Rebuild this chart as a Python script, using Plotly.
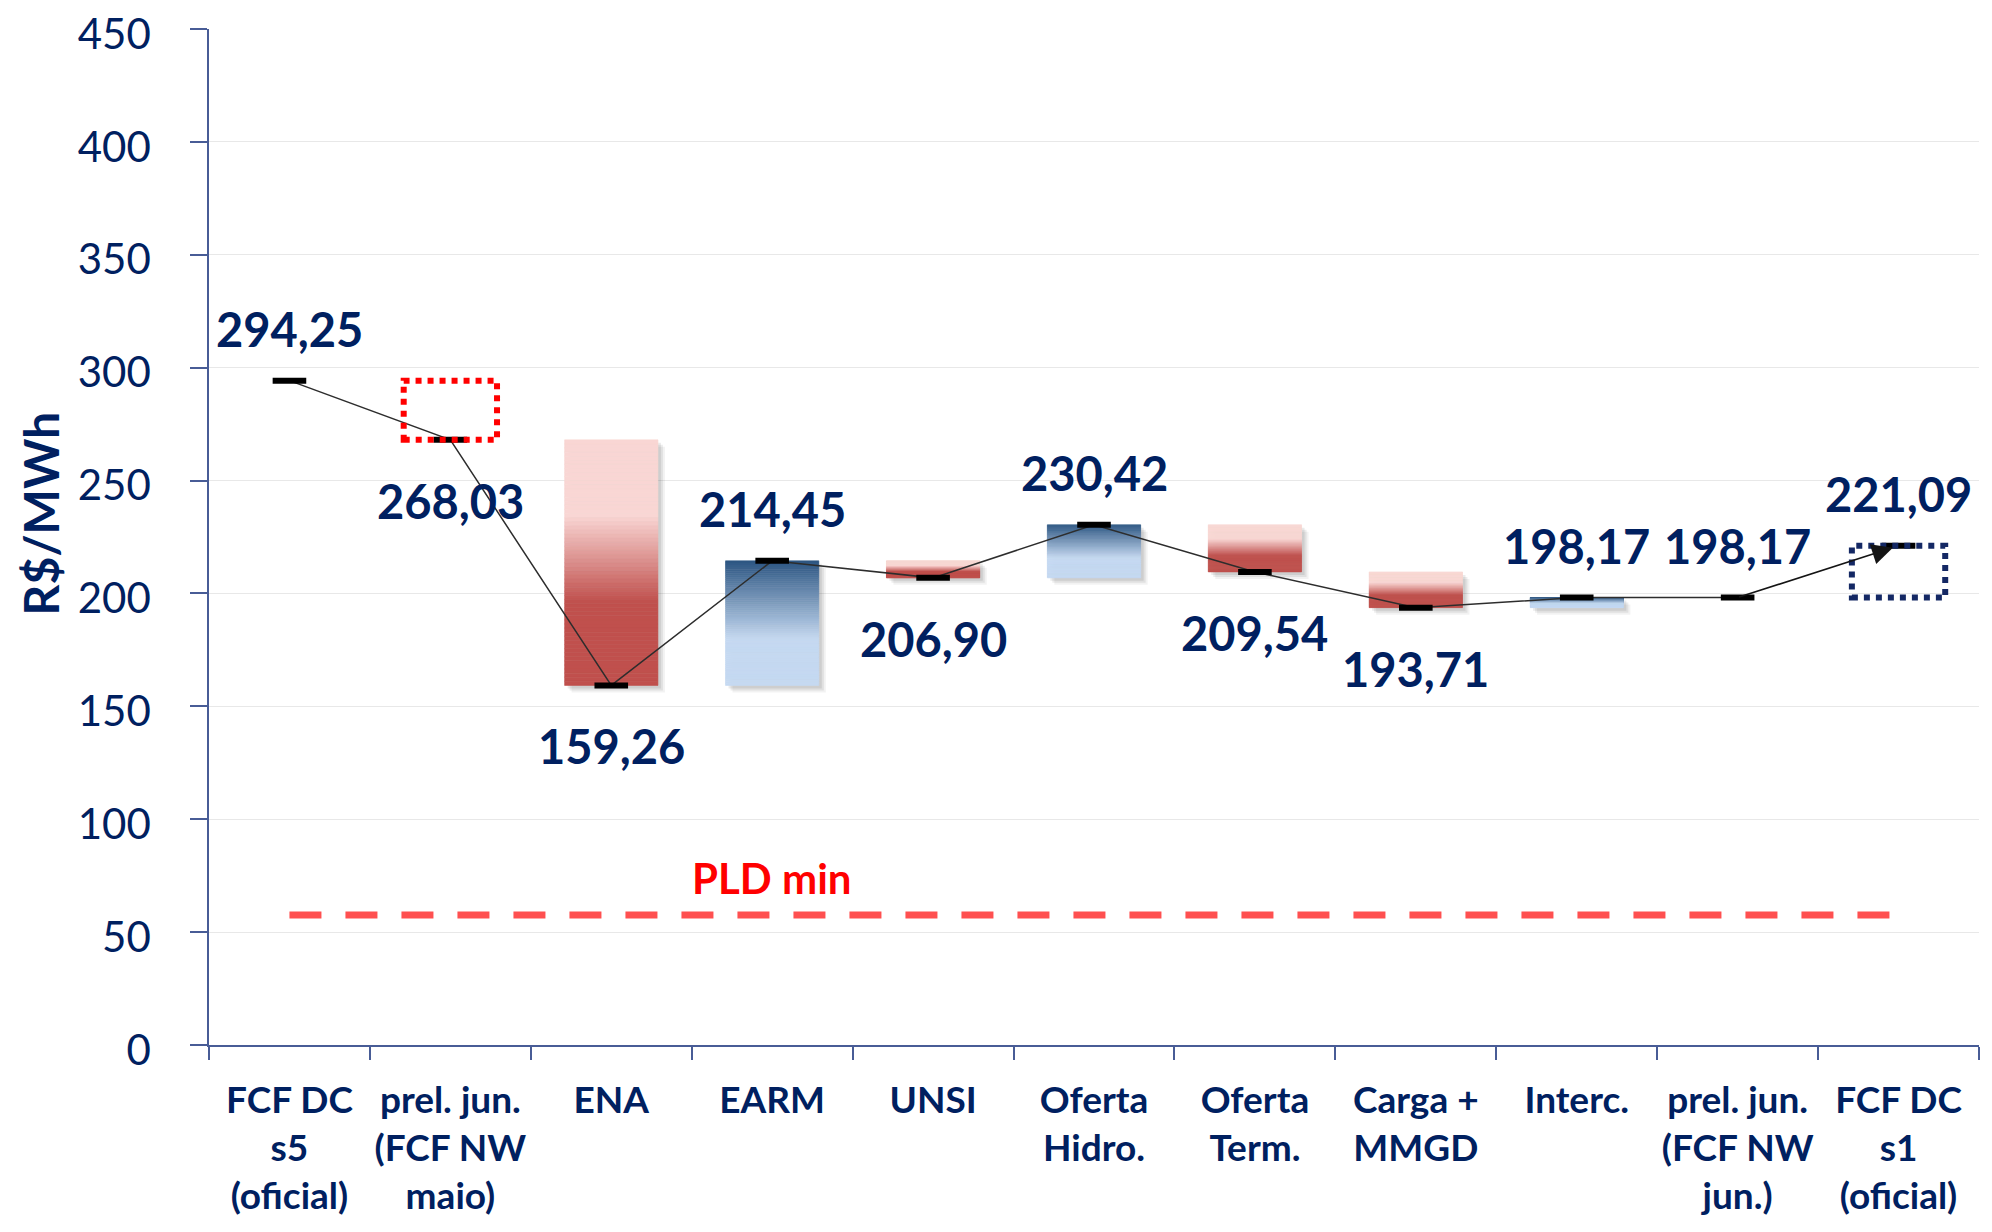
import plotly.graph_objects as go

# ---------------- data ----------------
categories = [
    "FCF DC<br>s5<br>(oficial)",
    "prel. jun.<br>(FCF NW<br>maio)",
    "ENA",
    "EARM",
    "UNSI",
    "Oferta<br>Hidro.",
    "Oferta<br>Term.",
    "Carga +<br>MMGD",
    "Interc.",
    "prel. jun.<br>(FCF NW<br>jun.)",
    "FCF DC<br>s1<br>(oficial)",
]
levels = [294.25, 268.03, 159.26, 214.45, 206.90, 230.42, 209.54, 193.71, 198.17, 198.17, 221.09]
pld_min = 57.6
pld_label = "PLD min"
pld_label_category = "EARM"
pld_label_y = 74
y_tick_values = [0, 50, 100, 150, 200, 250, 300, 350, 400, 450]
y_title = "R$/MWh"

# ---------------- styles ----------------
bar_kind = ["none", "box_red", "grad", "grad", "grad", "grad", "grad", "grad", "grad", "none", "box_navy"]
NAVY = "rgb(0,32,96)"
AXIS = "rgb(72,92,150)"
FONT = "Lato"
BAR_W = 0.58
RED_STOPS = [(0.0, (249, 214, 212)), (0.31, (249, 214, 212)), (0.66, (192, 80, 77)), (1.0, (192, 80, 77))]
BLUE_STOPS = [(0.0, (44, 85, 130)), (0.63, (197, 217, 241)), (1.0, (197, 217, 241))]
N_SLICES = 60
PX_PER_CAT = 161.0
PX_PER_UNIT = 1016.0 / 450.0


def interp(stops, f):
    for (f0, c0), (f1, c1) in zip(stops[:-1], stops[1:]):
        if f0 <= f <= f1:
            t = 0 if f1 == f0 else (f - f0) / (f1 - f0)
            c = [round(a + (b - a) * t) for a, b in zip(c0, c1)]
            return "rgb(%d,%d,%d)" % tuple(c)
    return "rgb(%d,%d,%d)" % stops[-1][1]


def fmt(v):
    return f"{v:.2f}".replace(".", ",")


fig = go.Figure()

# shadows for gradient bars
for dx_px, dy_px, alpha in [(7, 7, 0.05), (5, 5, 0.07), (3, 3, 0.08)]:
    sx, sb, sy = [], [], []
    for i in range(1, len(levels)):
        if bar_kind[i] != "grad":
            continue
        lo, hi = sorted([levels[i - 1], levels[i]])
        sx.append(categories[i])
        sb.append(lo - dy_px / PX_PER_UNIT)
        sy.append(hi - lo)
    fig.add_trace(go.Bar(
        x=sx, y=sy, base=sb, width=BAR_W, offset=-BAR_W / 2 + dx_px / PX_PER_CAT,
        marker=dict(color=f"rgba(0,0,0,{alpha})", line=dict(width=0)),
        hoverinfo="skip", showlegend=False,
    ))

# gradient bars built from slices
gx, gb, gy, gc = [], [], [], []
for i in range(1, len(levels)):
    if bar_kind[i] != "grad":
        continue
    prev, cur = levels[i - 1], levels[i]
    top, bot = max(prev, cur), min(prev, cur)
    stops = BLUE_STOPS if cur > prev else RED_STOPS
    h = (top - bot) / N_SLICES
    for k in range(N_SLICES):
        f = (k + 0.5) / N_SLICES
        gx.append(categories[i])
        gb.append(top - (k + 1) * h)
        gy.append(h)
        gc.append(interp(stops, f))
fig.add_trace(go.Bar(
    x=gx, y=gy, base=gb, width=BAR_W,
    marker=dict(color=gc, line=dict(color=gc, width=0.6)),
    hoverinfo="skip", showlegend=False,
))

# dotted boxes
for i in range(1, len(levels)):
    if bar_kind[i] in ("box_red", "box_navy"):
        col = "rgb(255,0,0)" if bar_kind[i] == "box_red" else "rgb(20,40,100)"
        fig.add_shape(type="rect", xref="x", yref="y",
                      x0=i - BAR_W / 2, x1=i + BAR_W / 2,
                      y0=min(levels[i - 1], levels[i]), y1=max(levels[i - 1], levels[i]),
                      line=dict(color=col, width=6, dash="dot"))

# PLD min line
fig.add_trace(go.Scatter(
    x=[categories[0], categories[-1]], y=[pld_min, pld_min], mode="lines",
    line=dict(color="rgb(255,80,80)", width=7, dash="32px,24px"),
    hoverinfo="skip", showlegend=False,
))

# connector line (to the second-to-last point); last segment is an arrow
fig.add_trace(go.Scatter(
    x=categories[:-1], y=levels[:-1], mode="lines",
    line=dict(color="rgb(45,45,45)", width=1.5),
    hoverinfo="skip", showlegend=False,
))
fig.add_annotation(x=len(levels) - 1, y=levels[-1], ax=len(levels) - 2, ay=levels[-2],
                   xref="x", yref="y", axref="x", ayref="y", text="", showarrow=True,
                   arrowhead=2, arrowsize=2.6, arrowwidth=1.6, arrowcolor="rgb(20,20,20)",
                   standoff=6)

# level markers
fig.add_trace(go.Scatter(
    x=categories, y=levels, mode="markers",
    marker=dict(symbol="line-ew", size=24, line=dict(color="black", width=6)),
    hoverinfo="skip", showlegend=False,
))

# value labels
for i, v in enumerate(levels):
    below = i > 0 and v < levels[i - 1]
    fig.add_annotation(x=i, y=v, xref="x", yref="y", text=fmt(v), showarrow=False,
                       yshift=-61 if below else 52,
                       font=dict(family=FONT, size=47, color=NAVY, weight=700))

# PLD min label
fig.add_annotation(x=categories.index(pld_label_category), y=pld_label_y, xref="x", yref="y",
                   text=pld_label, showarrow=False,
                   font=dict(family=FONT, size=42, color="rgb(255,0,0)", weight=700))

# y-axis title
fig.add_annotation(x=-0.095, y=0.523, xref="paper", yref="paper", text=y_title,
                   xanchor="center", yanchor="middle",
                   textangle=-90, showarrow=False,
                   font=dict(family=FONT, size=48, color=NAVY, weight=700))

fig.update_layout(
    width=1976, height=1216,
    margin=dict(l=201, r=5, t=21, b=179, autoexpand=False),
    paper_bgcolor="white", plot_bgcolor="white",
    barmode="overlay", showlegend=False,
    xaxis=dict(type="category", categoryorder="array", categoryarray=categories,
               tickson="boundaries", ticks="outside", ticklen=13, tickwidth=1.5, tickcolor=AXIS,
               showline=True, linecolor=AXIS, linewidth=1.5, showgrid=False,
               tickangle=0, automargin=False, ticklabeloverflow="allow",
               tickfont=dict(family=FONT, size=37, color=NAVY, weight=700),
               ticklabelstandoff=22, range=[-0.5, len(categories) - 0.5]),
    yaxis=dict(range=[0, 450], tickvals=y_tick_values, ticks="outside", ticklen=17,
               tickwidth=1.5, tickcolor=AXIS, showline=True, linecolor=AXIS, linewidth=1.5,
               showgrid=True, gridcolor="rgb(232,232,232)", gridwidth=1, zeroline=False,
               automargin=False, ticklabeloverflow="allow", ticklabelshift=5,
               tickfont=dict(family=FONT, size=42, color=NAVY), ticklabelstandoff=31),
)

fig.write_html("out.html")
